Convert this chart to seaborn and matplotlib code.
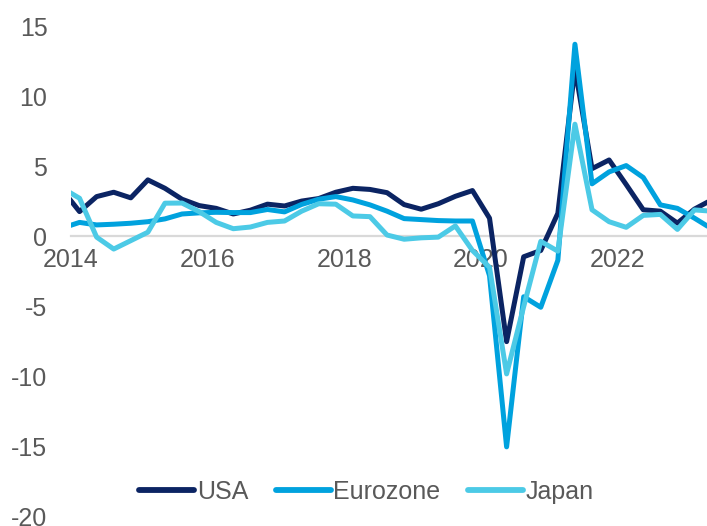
import matplotlib
matplotlib.use("Agg")
import matplotlib.pyplot as plt
from matplotlib.lines import Line2D
import numpy as np
import pandas as pd
import seaborn as sns

# ---- data: y/y real GDP growth (%), quarterly, 2013Q4 .. 2023Q2 ----
quarters = [f"{y}Q{q}" for y in range(2013, 2024) for q in range(1, 5)][3:42]

usa = [3.3, 1.77, 2.84, 3.15, 2.75, 4.03, 3.43, 2.65, 2.2, 2.0,
       1.6, 1.87, 2.3, 2.17, 2.52, 2.7, 3.15, 3.43, 3.35, 3.12,
       2.27, 1.94, 2.33, 2.86, 3.27, 1.3, -7.5, -1.45, -1.0, 1.65,
       12.0, 4.83, 5.45, 3.7, 1.9, 1.8, 0.95, 1.95, 2.6]
eurozone = [0.6, 1.0, 0.82, 0.87, 0.94, 1.05, 1.25, 1.6, 1.68, 1.72,
            1.7, 1.7, 1.92, 1.75, 2.28, 2.65, 2.84, 2.6, 2.25, 1.8,
            1.27, 1.2, 1.13, 1.1, 1.1, -2.8, -15.0, -4.3, -5.05, -1.7,
            13.7, 3.75, 4.6, 5.05, 4.2, 2.25, 2.0, 1.3, 0.55]
japan = [3.44, 2.72, -0.05, -0.9, -0.3, 0.3, 2.37, 2.38, 1.77, 1.0,
         0.55, 0.67, 1.0, 1.1, 1.8, 2.33, 2.3, 1.46, 1.41, 0.1,
         -0.2, -0.1, -0.05, 0.75, -1.0, -2.2, -9.8, -5.0, -0.35, -1.05,
         8.0, 1.9, 1.05, 0.65, 1.5, 1.57, 0.5, 1.89, 1.8]

series_names = ["USA", "Eurozone", "Japan"]
colors = ["#0b2463", "#00a2de", "#4ccae6"]
year_ticks = [2014, 2016, 2018, 2020, 2022]
y_ticks = [-20, -15, -10, -5, 0, 5, 10, 15]

# position of each quarter on a fractional-year axis (mid-quarter)
xpos = [int(q[:4]) + (int(q[-1]) - 0.5) / 4 for q in quarters]

df = pd.DataFrame({
    "x": xpos * 3,
    "value": usa + eurozone + japan,
    "series": sum([[n] * len(quarters) for n in series_names], []),
})

sns.set_style("white")
plt.rcParams["font.family"] = ["Liberation Sans", "DejaVu Sans"]
plt.rcParams["axes.unicode_minus"] = False

W, H = 707, 526
fig = plt.figure(figsize=(W / 100, H / 100), dpi=100)
ax = fig.add_axes([71 / W, 1 - 517 / H, 1 - 71 / W, (517 - 26) / H])

sns.lineplot(data=df, x="x", y="value", hue="series", hue_order=series_names,
             palette=colors, linewidth=3.6, sort=False, legend=False, ax=ax)
for ln in ax.lines:
    ln.set_solid_joinstyle("round")
    ln.set_solid_capstyle("butt")
    ln.set_zorder(3)

ax.set_xlim(2014, 2014 + (W - 71) / 68.33)
ax.set_ylim(-20, 15)

for s in ["top", "right", "left"]:
    ax.spines[s].set_visible(False)
ax.spines["bottom"].set_position(("data", 0))
ax.spines["bottom"].set_color("#d9d9d9")
ax.spines["bottom"].set_linewidth(1.6)
ax.spines["bottom"].set_zorder(1)

ax.set_xticks(year_ticks)
ax.set_xticklabels([str(y) for y in year_ticks])
ax.set_yticks(y_ticks)
ax.set_yticklabels([str(v) for v in y_ticks])
ax.tick_params(axis="x", direction="out", length=5, width=1.6, color="#d9d9d9",
               labelsize=18, labelcolor="#595959", pad=3)
ax.tick_params(axis="y", length=0, labelsize=18, labelcolor="#595959", pad=17)
ax.set_xlabel("")
ax.set_ylabel("")
ax.grid(False)

handles = [Line2D([0], [0], color=c, lw=4.2, solid_capstyle="round") for c in colors]
ax.legend(handles, series_names, loc="center", bbox_to_anchor=(0.518, 0.0646),
          bbox_transform=fig.transFigure, ncol=3, frameon=False,
          handlelength=2.2, handletextpad=0.1, columnspacing=1.1,
          fontsize=18, labelcolor="#595959")

fig.savefig("out.png", dpi=100)
